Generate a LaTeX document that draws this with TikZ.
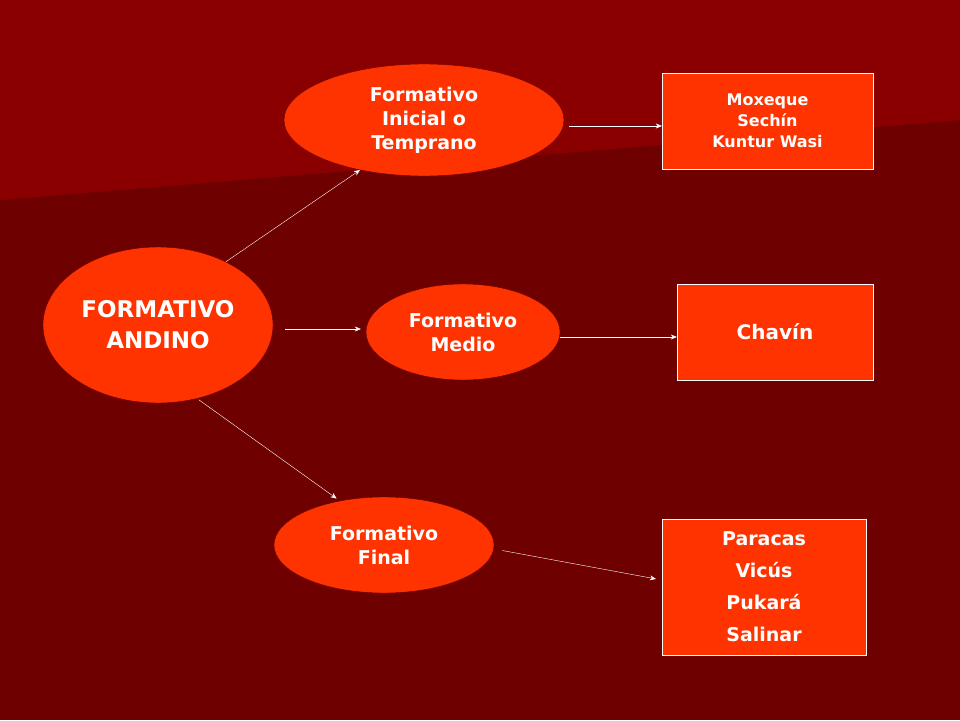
\documentclass[tikz,border=0pt]{standalone}
\usepackage{fontspec}
\setmainfont{DejaVu Sans}
\usetikzlibrary{arrows.meta,shapes.geometric}
\definecolor{bgdark}{HTML}{6E0000}
\definecolor{bglight}{HTML}{8A0000}
\definecolor{boxred}{HTML}{FF3300}
\tikzset{
    oval/.style={ellipse,fill=boxred,draw=bgdark,align=center,font=\bfseries\fontsize{19}{24}\selectfont,text=white,inner sep=0pt},
    site/.style={rectangle,fill=boxred,draw=white,align=center,text=white,font=\bfseries\fontsize{16}{21}\selectfont},
    link/.style={draw=white,-{Stealth[length=6pt,width=5pt]}}
}
\begin{document}
\begin{tikzpicture}[x=1pt,y=-1pt]
    % Background
    \fill[bgdark] (0,0) rectangle (960,720);
    \fill[bglight] (0,0) -- (960,0) -- (960,120) -- (0,200) -- cycle;
    \useasboundingbox (0,0) rectangle (960,720);
    % Ovals
    \node[oval,minimum width=230pt,minimum height=156pt,font=\bfseries\fontsize{23}{31}\selectfont] (andino) at (158,325) {FORMATIVO\\ANDINO};
    \node[oval,minimum width=280pt,minimum height=112pt] (inicial) at (424,120) {Formativo\\Inicial o\\Temprano};
    \node[oval,minimum width=194pt,minimum height=96pt] (medio) at (463,332) {Formativo\\Medio};
    \node[oval,minimum width=220pt,minimum height=96pt] (final) at (384,545) {Formativo\\Final};
    % Sites
    \node[site,minimum width=211pt,minimum height=96pt] (norte) at (767.5,121) {Moxeque\\Sechín\\Kuntur Wasi};
    \node[site,minimum width=196pt,minimum height=96pt,font=\bfseries\fontsize{20}{24}\selectfont] (chavin) at (775,332) {Chavín};
    \node[site,minimum width=204pt,minimum height=136pt,font=\bfseries\fontsize{19}{32}\selectfont] (sur) at (764,587) {Paracas\\Vicús\\Pukará\\Salinar};
    % Rows
    \coordinate (r1) at (0,126);
    \coordinate (r2) at (0,329);
    \coordinate (r3) at (0,337);
    \coordinate (r4) at (0,549);
    \coordinate (r5) at (0,580);
    % Links
    \draw[link] (andino.43) -- (inicial.218);
    \draw[link,shorten <=12pt,shorten >=5pt] (andino.east |- r2) -- (medio.west |- r2);
    \draw[link,shorten <=2pt,shorten >=4pt] (andino.298) -- (final.135);
    \draw[link,shorten <=5pt] (inicial.east |- r1) -- (norte.west |- r1);
    \draw[link] (medio.east |- r3) -- (chavin.west |- r3);
    \draw[link,shorten <=8pt,shorten >=6pt] (final.east |- r4) -- (sur.west |- r5);
\end{tikzpicture}
\end{document}
